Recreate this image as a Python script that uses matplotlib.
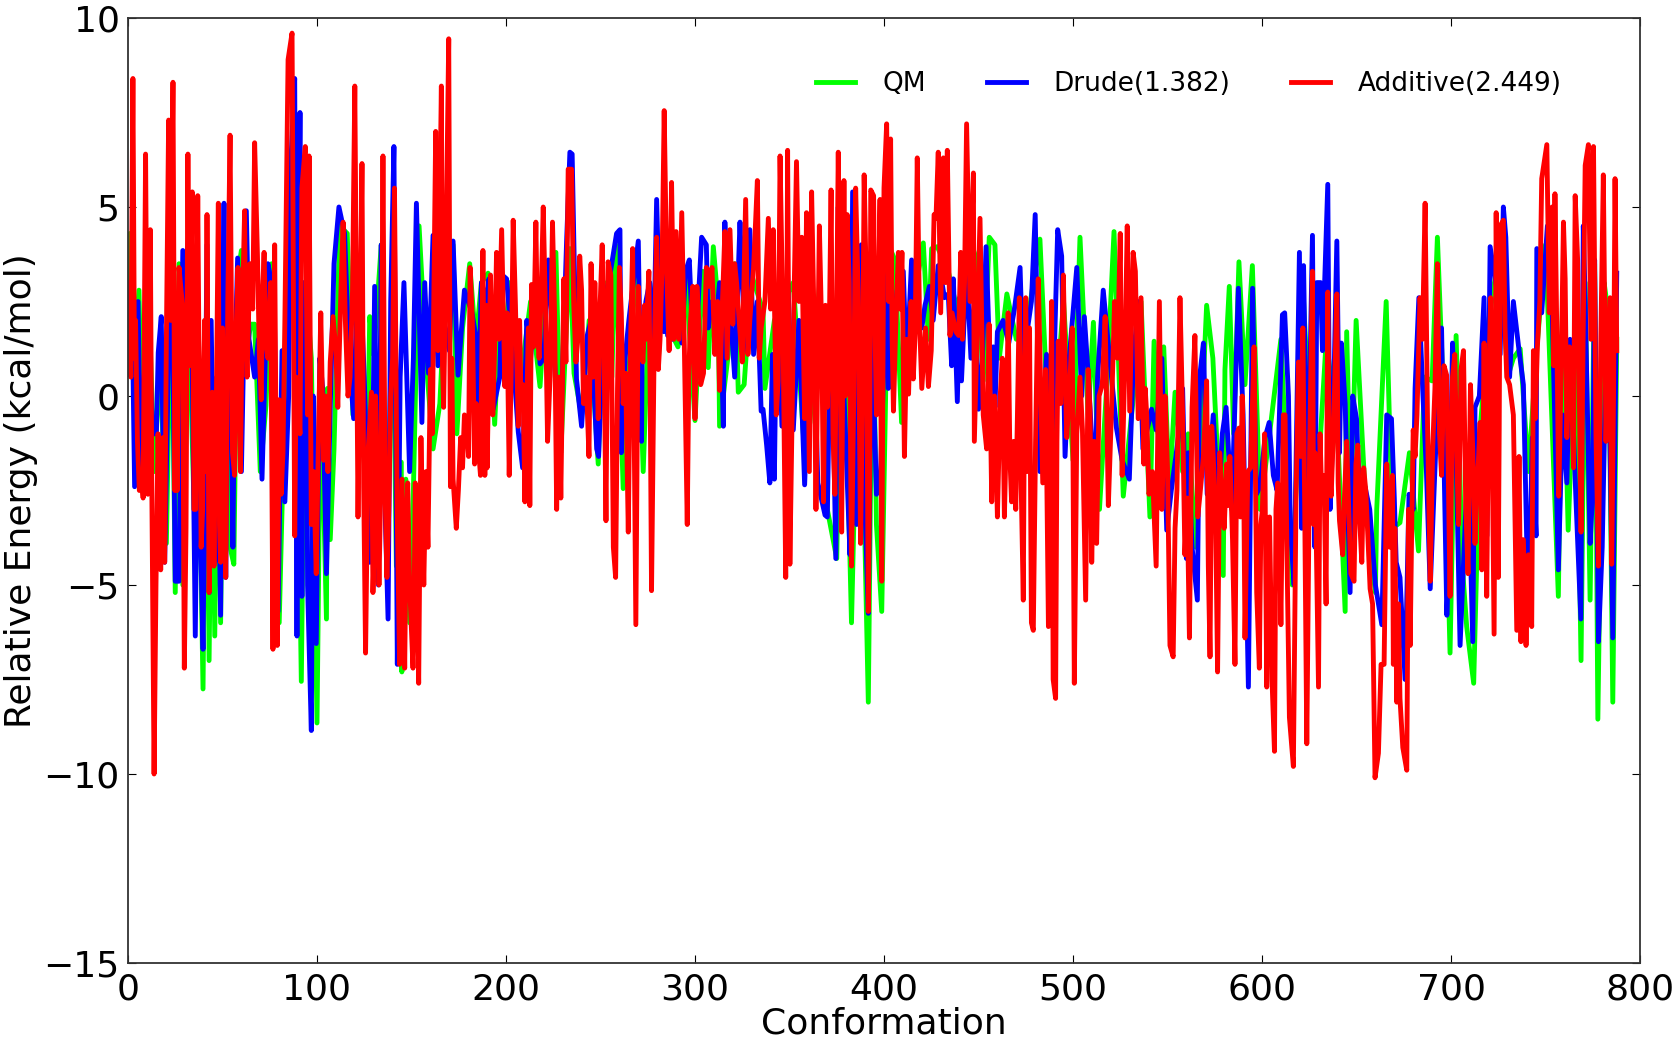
import matplotlib
matplotlib.use("Agg")
import matplotlib.pyplot as plt

# values, turning points of each curve
qm_x = [0, 1, 3, 5.8, 8, 11, 14, 17, 20.3, 23,
        25, 27, 29, 32, 35, 37, 39.7, 41.5, 42.9, 44.5,
        45.9, 47.5, 49, 51, 54, 56, 58, 60, 62, 65,
        67, 70, 73, 76, 80, 84, 87, 89, 91.7, 94,
        97, 100, 102, 105, 105.5, 107, 109, 112, 116, 119,
        123, 126, 127.9, 130, 134, 137, 140, 142, 144.6, 144.9,
        147, 149, 151, 154, 157.8, 161.4, 165, 168, 172, 174,
        177, 180.8, 184, 187, 190.5, 194, 196, 198, 202, 208.2,
        213, 218, 222, 226.4, 229, 233.8, 236, 240, 244, 248.8,
        252, 256, 258, 262, 266, 269, 272.6, 276, 280.6, 284,
        288, 291, 295, 300, 304, 307, 309.7, 312.3, 313, 317.6,
        321, 322.9, 326, 330, 336, 337, 342, 345, 352, 358,
        360.8, 366, 370, 375, 378, 382.8, 387, 391.7, 394, 396,
        398.8, 402.3, 405.8, 409.3, 415, 420.8, 423.5, 425.2, 428.2, 434,
        440, 444.6, 449, 452.5, 455.7, 458.7, 461, 465, 470, 476,
        482.5, 488, 495, 500, 503.7, 508, 510.8, 514, 518, 521.7,
        526.6, 532, 536, 540.7, 542.9, 545, 548, 551, 554, 558,
        561, 565, 570.7, 574, 579.5, 580.4, 582.7, 585, 587.8, 591,
        594.9, 599, 604, 610, 616, 622, 628, 634, 640, 644,
        644.8, 647, 649.8, 655, 660, 660.7, 665.7, 669, 673, 678,
        682.8, 686, 690, 692.8, 696, 699.5, 702.7, 706, 708.3, 712,
        715.4, 720, 726, 730, 733, 736.6, 741, 745, 750, 756.8,
        759, 762, 766, 768.8, 771, 773.6, 776, 777.7, 781, 783.3,
        785.6, 787.7]
qm_y = [2.5, 4.3, 0.8, 2.8, -2.5, 2.5, -2, 1.1, -3.9, 3.5,
        -5.2, 3.5, -5, 2.5, -3, 0.4, -7.75, 2, -7, 0,
        -6.35, 1, -6, 2.6, -4, -4.45, 3.2, 3.85, 1, 1.9,
        1.9, -2, -0.25, 3.5, -6, 2, 6, 2, -7.55, 3,
        1, -8.65, 0.5, -5.9, 0.2, -3.8, -1.4, 4.5, 4.3, -0.5,
        2.5, -4, 2.1, 1.1, 4, -4.5, 3, -4.5, -1.75, -7.3,
        -2.2, -6, -2.5, 4.5, 0.9, -1.4, -0.2, 3, 4, -1,
        1.8, 3.5, 1.4, 3, 3.25, -0.75, 1.5, 0.6, 3, 0.65,
        2.5, 0.25, 3.4, 3.8, -1.5, 3.9, 0.6, -0.5, 2, -1.8,
        3, 0.5, 4, -2.45, 1.6, 3.6, -2, 3, 0.95, 4,
        1.6, 1.3, 3.3, -0.65, 3.3, 0.75, 3.95, 2.4, -0.8, 1.1,
        3.5, 0.1, 0.3, 3.2, 2.25, 0.2, 2, 2.3, 3, -1.5,
        -0.7, 3, -3, -4.3, 4, -6, 3, -8.1, 3, -3.4,
        -5.7, 4, 3.6, -0.7, 2.3, 4.05, 1.5, 3.9, 3.95, 3.3,
        2, 4.3, 3.6, 0.4, 4.2, 4, 1, 2.7, 1.5, 2,
        4.15, -2, 2.5, -1.7, 4.2, -0.5, 1.95, -3, 0.4, 4.35,
        -2.65, 0, 2.5, -3.2, 1.45, -1, 1.3, -2.5, 0.1, -2,
        -1, -4, 2.4, 1, -4.75, 0.7, 2.9, -1, 3.55, 0.3,
        3.45, -3, -1, 1.5, -5, 2.5, -3.5, 1.5, -1, -5.7,
        1.7, -3, 2, -3, -5.2, -3, 2.5, -3.5, -3.35, -1.5,
        -4.1, 0.5, 0.4, 4.2, 0, -6.8, 1.6, -4.5, -6.1, -7.6,
        -0.9, 2, 4, 0.5, 1, 1.25, -2, 1, 4, -5.3,
        2.5, -3.55, 2, -7, 3, -5.4, 3.5, -8.55, 3, 2.15,
        -8.1, 1.5]

drude_x = [0, 2.1, 3.5, 5.3, 7, 10, 13, 15, 16, 17.6,
           19.4, 23, 25, 27, 29, 32, 35.6, 37, 39.7, 41.8,
           43, 45.9, 47, 49, 50.8, 51.7, 55.5, 56.4, 58, 60,
           62.6, 64, 67, 69, 70.9, 72, 76, 79.4, 81.5, 83,
           86, 88.2, 89.4, 91, 92, 94.5, 97, 99.6, 101.5, 105,
           107, 111.6, 114.6, 119.4, 123, 127.9, 130.5, 132.5, 134, 137.6,
           140.7, 142.5, 149, 152.6, 155.5, 161.4, 167, 172, 174.6, 178,
           184.3, 185, 189.7, 193.2, 196.7, 200.3, 206.5, 208.8, 213, 218,
           222.4, 228.5, 232, 233.8, 235, 237.3, 240, 245, 248, 249,
           258.5, 260.3, 261, 265, 270, 271.7, 272, 279.7, 281.5, 286,
           291, 293, 297, 303.5, 306, 307, 315, 315.8, 321, 323.8,
           329, 331, 336, 337.9, 339.6, 342, 344, 358, 362, 368.8,
           372, 374.5, 375.8, 383.4, 385.5, 388, 391.7, 396, 401.4, 402.3,
           410.2, 414.6, 420, 421.7, 428.7, 432, 435.8, 436.7, 438.8, 441,
           443.7, 450, 454, 457.8, 458.7, 463, 472, 476, 480, 482.5,
           491.9, 494, 495.8, 502, 504.6, 508, 511.6, 516, 523, 529.8,
           534.6, 541.6, 549.6, 556, 560, 561, 565.8, 569, 574.2, 581,
           587.5, 592.8, 595, 599, 601.6, 603.8, 606, 610.8, 612, 614,
           617, 619.8, 621, 622, 626.7, 629, 632, 634.8, 637.5, 639.6,
           642, 644, 646.6, 650, 654.5, 657, 663.4, 666, 668.5, 671,
           675.7, 677.8, 681, 683, 689, 695, 697.8, 700.8, 704.8, 711.5,
           712.7, 717.5, 720.7, 727.7, 731, 733, 738.3, 741, 745, 745.4,
           751, 756.8, 761.3, 766, 768.7, 771, 773.6, 778, 783.3, 785.6,
           787.7]
drude_y = [1, 2.6, -2.4, 2.5, -2.4, 3, -1, -1, 1.15, 2.1,
           -4.4, 5.25, -4.9, -4.9, 3.85, 1, -6.35, 0.5, -6.7, 4,
           -5.2, -4.4, 0.5, -5.8, 5.1, -4.8, -4, 0.5, 3.65, -2,
           4.9, 1.5, 0.5, 1.5, -2.2, -0.2, 3, -5.7, 1.2, -2.8,
           6, 8.4, -6.35, 7.5, -5.3, 2.9, -8.85, -6.55, 1, -4.7,
           -0.3, 5, 4.3, -0.6, 3, -4.4, 2.9, -5, 4, -5.9,
           6.6, -7.1, -2, 5.1, -0.7, 4.25, 2, 4.1, 0.55, 2.8,
           1.5, -0.9, 2.5, -0.35, 0.5, 3.1, -0.95, -1.9, 1, 0.85,
           3.6, -1.6, 4, 6.45, 6.4, 0.45, -0.8, 2, -1.4, -1.6,
           4.3, 4.4, -1.5, 2, 4.1, -1.2, 0.9, 5.2, 1.8, 1.6,
           3.4, 1.4, 3.6, 4.2, 4, 1.8, -0.8, 4.6, 0.5, 4.6,
           4.4, 1.1, -0.35, -1.3, -2.3, -2.2, 2.4, -2.35, 3, -3.15,
           3, -4.3, 5, 5.4, -3.4, 4, -5.75, -2.6, 5, 0.2,
           3.3, 3.6, 1.8, 2.4, 3.45, 2.6, 0.8, 3.1, -0.15, 0.4,
           3.5, -0.35, 3.95, 1.3, -0.3, 2, 3.4, 1.8, 4.8, -2,
           4.4, 3.7, -1.6, 3.4, 0, 0.6, -2.65, 2.8, -0.85, -2.2,
           2.5, -0.35, -3.55, -1, -4.3, -1.5, -5.4, 1.4, -0.5, -0.3,
           2.85, -7.7, 2.85, -2.4, -1.1, -0.7, -2.1, 2.15, 2.2, 0,
           -5, 3.8, -3.5, 3.45, 4.25, 3, 1.2, 5.6, -1, 4.1,
           1.4, -0.2, -5.2, -0.6, -2.4, -3, -6.05, -0.5, -0.6, -4.4,
           -7.5, -2.6, 0.2, 2.6, -5.1, 1.8, -5.8, 1.4, -6.6, -6.5,
           -0.3, 2.6, 3.95, 5, 0.5, 2.5, 0.3, -6, -3.7, 3.9,
           4.5, -4.6, -2.3, -2.6, -5.9, 2.5, -3.9, -6.5, 1.8, -6.4,
           3.25]

# second reading: the thick bands between the turning points
drude_more_x = [33.5, 38.5, 44, 52.8, 53.6, 74, 77.5, 85, 90, 93,
                95, 98, 103, 109, 117, 121, 125, 129, 135.5, 139,
                144, 146, 151, 157, 159, 164, 170, 182, 187, 191,
                198, 203, 211, 216, 220, 225, 243, 252, 255, 263,
                274, 276, 278, 282.5, 283.5, 284.5, 285.5, 287, 288, 289,
                290, 295, 299, 301, 309, 311, 313, 317, 319, 325,
                327, 333, 335, 341, 343, 346, 349, 352, 355, 360,
                365, 370, 377, 380, 382, 386.5, 390, 393.5, 398, 400,
                404, 407, 412, 417, 424, 426, 430, 434, 440, 446,
                448, 452, 456, 460, 466, 469, 474, 478, 486, 489,
                498, 506, 513, 519, 526, 532, 537, 544, 547, 552,
                558, 563, 567, 571, 577, 579, 584, 590, 597, 608,
                615, 624, 628, 631, 636, 641, 648, 652, 660, 670,
                673, 680, 685, 687, 692, 699, 702.5, 707, 709, 715,
                719, 724, 726, 729, 736, 743, 748, 753, 759, 763,
                770, 775, 776, 780, 782]
drude_more_y = [3, -4, 2, 2, 3.6, 3.5, 2, 0, 2, 3,
                -5, 0, 0.2, 3.5, 1, 2.5, 0.5, -3.5, -2, 2.5,
                0.5, 3, 1, 3, 0.6, 0.8, 1.2, 2.2, 3, 3.1,
                3.2, 1.5, 2, 3, 1, 1.5, 1.6, 2.5, 3.2, 1,
                2.5, 3, 1, 3.5, 1.7, 3.2, 1.6, 3, 1.5, 3.4,
                1.7, 3.3, 1.2, 1.8, 2.5, 1.9, 3, 2.7, 2, 3,
                1.2, 2.5, -0.4, 1.1, 1.8, -0.8, 3.2, -0.9, 2, 0.5,
                -2.3, -3.2, 2.4, -1.5, -4.2, 1, -3.1, 2, -2.4, 1.1,
                1.2, 2.8, 0.7, 2, 2.9, 2, 3.2, 2.7, 2.6, 1,
                2.8, 0.9, 0.9, 1.7, 1.4, 2.3, 0, 2.5, 1.1, -0.9,
                1, 2.1, 0.5, 1.2, -1.7, 1, -1.4, -0.9, 1, -2.5,
                0.2, -4, 0.5, -2.6, -2.9, -1, -3, -0.5, -2.6, -2.5,
                -3.5, -3.1, -4, 3, -3, -1.5, 0, -3, -5, -2.7,
                -4.8, -3, 0.2, -2, -1.3, -4.2, -1, -4, -1.5, 0,
                -3.7, 2.9, 1.1, 4.2, 1.2, -1.1, 2.2, 3.4, -0.5, 1.5,
                4.5, -2.5, 3.6, -4, 1]

additive_x = [0, 1.5, 2.6, 4, 5, 6, 7, 8, 9.3, 10.5,
              11.8, 13.8, 15.9, 17.3, 18.5, 19.4, 21.5, 22.5, 23.8, 26,
              27, 29.8, 31.7, 33, 34, 34.9, 36.9, 38, 39.5, 41.8,
              42.9, 44.6, 45.5, 46.8, 47.8, 49, 50, 51.7, 54, 55.3,
              56.4, 58.2, 59.5, 61.7, 63, 64.5, 67, 68.5, 70.5, 72,
              74, 75.5, 76.7, 77.6, 79, 80, 82, 84.7, 86.8, 88.2,
              90, 92, 93.8, 95, 95.8, 97, 99.6, 102, 103.5, 105.8,
              108.5, 111, 113.8, 116.4, 117.5, 120, 121.7, 123.8, 125.7, 128.8,
              129.6, 131, 132.8, 134.9, 137, 139, 141, 143.7, 145, 146.4,
              148, 149, 150.8, 152, 153.8, 155, 156.5, 158.7, 160, 162.8,
              164, 165.8, 167, 168, 169.7, 170.6, 172, 173.7, 176, 178,
              179.5, 181, 183.4, 185, 186.5, 187.8, 188.8, 190, 191.8, 193,
              195, 197.7, 199.4, 201.7, 203.8, 205, 206.5, 208, 210, 211.8,
              212.6, 213.5, 215.8, 217.5, 219.7, 222, 224.6, 226.8, 229, 230.6,
              232.9, 234.7, 237, 239, 241, 243.9, 245, 247, 248.8, 250.9,
              252.9, 254, 255.5, 256.8, 258, 260, 262, 264.7, 267, 268.7,
              270, 272.5, 274, 275.6, 277, 279.7, 281.5, 283.7, 285, 287.6,
              290, 293, 295.9, 297.5, 300, 301, 303, 306, 309, 313,
              315.8, 318.5, 321, 323.5, 326.8, 329, 333, 335, 338.8, 341.4,
              343, 345, 348, 349, 350.2, 353.7, 356.5, 358, 359, 361.7,
              364, 365.8, 368, 370, 372, 374, 375.8, 377.6, 378.8, 380.5,
              382.8, 385, 387.6, 389.5, 391.7, 393, 394.5, 396, 397.9, 398.8,
              400, 401.4, 403.5, 405, 407.6, 409.5, 410.8, 413, 415.5, 417.6,
              420, 423.5, 426.5, 427.5, 428.7, 431.4, 433.5, 434.9, 439.5, 440.6,
              441.5, 443.7, 447.3, 447.8, 450.8, 454.3, 457, 458.5, 460, 461.5,
              463.7, 465.7, 467.5, 469.7, 471.6, 473.7, 475, 477, 478, 479,
              481.6, 484, 487, 488.7, 489.5, 490.8, 492.2, 494.9, 496.7, 499.6,
              500.7, 503.7, 506.7, 509, 509.9, 512.5, 517, 518.7, 522, 525,
              526, 528.7, 531.8, 533, 536, 537.5, 539, 540.2, 544, 545.7,
              548.7, 551.3, 553, 555, 556.6, 559.2, 561.6, 564.5, 567.2, 570.7,
              572.5, 574.2, 576.5, 578.6, 581.3, 583, 585.7, 587.8, 589.5, 591,
              592.5, 595.8, 597.2, 598.6, 600.2, 602.5, 604, 605.3, 606.6, 608.3,
              610, 611.3, 612.2, 614.5, 616.6, 619.3, 621.6, 623.7, 626.7, 628,
              629.9, 631.6, 633.9, 634.8, 636.6, 639.6, 641, 642.7, 644.8, 647,
              648.7, 650.7, 652.8, 654.9, 657.2, 659.8, 661.6, 663, 664.6, 666,
              669, 669.5, 671.3, 673, 674.5, 676.6, 678.4, 680, 682, 683.6,
              686.3, 689, 690.3, 692.8, 695, 697.7, 699.5, 702, 704, 706.6,
              709, 711.5, 712.7, 714.5, 716.3, 717.5, 718.9, 721, 722.8, 723.9,
              725, 726, 727.7, 729.5, 733, 734.8, 737, 739.7, 742.7, 743.6,
              745.7, 748, 750.7, 753.5, 755, 757, 759.5, 761.3, 762.7, 764.8,
              765.7, 768.8, 771, 772.7, 775.4, 778, 780.6, 783.3, 785, 786.8,
              787.7]
additive_y = [3, 0.5, 8.4, 2, -1.2, -2.5, -2, -2.7, 6.4, -2.6,
              4.4, -10, -1, -4.6, -1.1, -4.4, 7.3, 2, 8.3, -2.5,
              3.4, -7.2, 6.4, 2, 5.4, -3, 5.3, 0.3, -3, 4.8,
              -5.2, 0.1, -4.5, 0.1, 5.1, -4.4, 1.8, -4.8, 6.9, -1.5,
              -2.1, 3.4, -2, 4.9, 0.5, 3.5, 6.7, 3.7, -0.1, 3.8,
              1, 3, -6.7, 4, -6.6, -0.1, -1.5, 8.9, 9.6, -3.7,
              -0.3, 5.5, 6.6, -0.5, 6.35, -3.4, -4.7, 2.2, -1.7, -2,
              2.1, -0.3, 4.6, 0, 0.5, 8.2, -3.2, 6.15, -6.8, 0.1,
              -5.2, 0, -5, 6.35, -4.8, 0, 5.5, -7.1, -2.2, -7.2,
              -2.3, -5, -7.2, -2.3, -7.6, -1.1, -5, -4, 0.7, 7,
              1.2, 8.2, -0.3, 3, 9.45, -2.4, -2.2, -3.5, -1.1, -0.5,
              -1, 3.4, -1.8, -1.1, -2.1, 3.85, -2.1, -1.9, 3.2, -0.5,
              3.8, 4.4, 0.25, -2.1, 4.65, 2.4, -0.8, -0.3, -2.8, 1.8,
              -2.9, 2.95, 4.6, 1, 5, -1.2, 4.6, -3, -2.7, 3.1,
              6, 6, 0.9, 3.7, -0.2, -1.6, 3.5, 3, -0.6, 4,
              -3.3, 3.55, 3.2, -4, -4.8, 3.4, -0.2, -3.6, 3.9, -6.05,
              2.9, 0.9, 1.5, 3.3, -5.15, 4.2, 1.5, 7.55, 3.3, 5.65,
              4.35, 4.85, -3.4, 1.9, -0.6, 2.9, 0.3, 3.4, 3.4, 0.15,
              4.35, 4.4, 3.5, 1.9, 5.2, 2, 5.7, 1.8, 4.7, 4.4,
              -0.5, 6.35, -4.8, 6.5, -4.45, 6.2, 4.2, -0.6, 4.85, 5.4,
              -3, 4.5, -2.8, -0.3, 5.45, -2.6, 6.45, -3.6, 5.7, 4.8,
              -4.5, 5.5, -3.9, 5.85, -5.7, 5.45, 5.3, -0.5, 5.2, -4.9,
              5.5, 7.2, 6.8, -0.4, 3.8, 3.8, -1.6, 0.05, 0.45, 6.3,
              0.2, 0.25, 4.8, 4.7, 6.45, 6.3, 6.5, 1.6, 1.6, 3.8,
              1.5, 7.2, 5.9, -1.2, 4.7, -1.4, -2.8, 0, -3.2, 0,
              -3.2, 2.2, -2.8, -3, 2.6, -5.4, 2.6, 1.8, -6, -6.2,
              3.1, -2.3, -6.1, 2.5, -7.5, -8, 1.45, 3.2, -1.1, 1.8,
              -7.6, 0.5, -5.4, -0.4, -4.4, -3.9, 2.1, -2.9, 2.5, 4.3,
              -2.1, 4.5, 3.8, 3.3, 2.6, -1.8, -0.5, -2.6, -4.5, 2.5,
              0, -6.6, -6.9, -2.5, 2.6, -4.2, -6.4, 1.6, -2.6, 0.4,
              -6.9, -1.6, -7.3, -2.4, -1.8, -1.6, -7.1, -0.85, 0, -6.4,
              -2, 1.3, -5.2, -7.2, -3, -7.7, -3.2, -7.5, -9.4, -2.3,
              -6.05, -0.5, -0.5, -8.5, -9.8, 0.9, 1.8, -9.2, 3.3, -1.5,
              -7.7, -2.65, -5.5, 2.75, -2.65, 2.7, -3.3, -4.2, -1.2, -4.7,
              -4.9, -1.3, -4.4, -2.5, -5.1, -10.1, -9.45, -7.1, -7.1, -1.8,
              -2.1, -7.1, -8.1, -8, -9.3, -9.9, -6.6, -0.9, -0.5, 2.6,
              5.1, -4.9, -1.4, 3.5, -2.1, 0.55, -5.3, 1.1, -3.4, 1.2,
              -4.7, -1.4, -3.9, -1.75, -4.6, 1.4, -5.3, 2.6, -6.3, 4.85,
              -4.8, 4.5, 4.65, 0.5, -0.5, -6.2, -6.5, -6.6, -6.1, 1.2,
              1.3, 5.75, 6.65, 5, 5.35, -2.65, 4.6, -1.1, 1.3, -1.9,
              5.3, -3.6, 6.1, 6.65, 6.6, -4.5, 5.85, 1.3, -4.45, 5.75,
              1.2]

additive_more_x = [3.4, 12.6, 14.8, 16.6, 20.3, 24.8, 25.5, 28.8, 30.7, 32.4,
                   35.8, 37.5, 38.7, 40.5, 41.2, 43.7, 46.2, 48.4, 50.8, 52.8,
                   57.3, 60.4, 62.2, 66, 69.5, 71.2, 73, 78.3, 81, 83,
                   89, 91, 94.4, 96.4, 98.2, 100.8, 104.5, 107, 110, 112.5,
                   115, 118.8, 122.7, 124.7, 127, 130.3, 133.8, 136, 138, 140,
                   142.4, 147.2, 151.4, 154.4, 157.6, 161, 163.4, 166.4, 171.3, 174.8,
                   177, 180.2, 182.2, 184.2, 189.4, 194, 196.3, 200.5, 202.7, 207.2,
                   209, 214.6, 216.6, 218.6, 221, 223.3, 225.7, 228, 231.7, 235.8,
                   238, 240, 242.4, 246, 249.8, 251.9, 259, 261, 263.3, 265.8,
                   271.2, 273.3, 276.3, 278.3, 280.6, 282.6, 286.3, 288.8, 291.5, 294.4,
                   296.7, 298.8, 302, 304.5, 307.5, 310.5, 312, 314.4, 317, 320,
                   322, 325, 328, 331, 334, 337, 340, 344, 346.5, 351.8,
                   355, 357.3, 360.5, 362.8, 367, 369, 371, 373, 376.7, 379.5,
                   381.6, 384, 386.3, 388.6, 390.6, 392.4, 395.2, 402.5, 404.3, 406.3,
                   408.5, 412, 414.3, 416.5, 418.8, 422, 425, 430, 432.5, 436,
                   438, 442.6, 445.5, 449.3, 452.5, 455.6, 459.3, 462.6, 464.7, 466.6,
                   468.6, 470.6, 472.6, 474.4, 476, 480.2, 482.8, 485.5, 491.5, 493.5,
                   495.8, 498, 502, 505, 508, 511.2, 513.8, 515.5, 520.3, 523.5,
                   527.3, 530, 534.5, 538.2, 542, 547, 550, 554, 558, 560.4,
                   563, 566, 569, 571.6, 573.4, 575.4, 577.6, 580, 582, 584.4,
                   586.7, 588.6, 590.3, 594, 599.4, 601.4, 603.2, 607.4, 609.2, 613.4,
                   618, 620.4, 622.6, 625.2, 627.3, 630.7, 632.8, 635.7, 638, 640.3,
                   643.7, 645.9, 649.7, 651.7, 653.8, 656, 658.5, 667.5, 670.3, 672.2,
                   677.5, 679.2, 681, 684.9, 687.6, 691.5, 693.9, 696.3, 698.6, 700.8,
                   703, 705.3, 707.8, 710.3, 713.6, 715.4, 720, 724.5, 725.5, 728.6,
                   731, 736, 738.3, 741, 744.6, 747, 752, 754.3, 756, 758.3,
                   760.4, 763.8, 767, 769.9, 774, 776.7, 779.3, 782, 784.2, 786]
additive_more_y = [1, -2.4, -5, -3, 1.5, -2.5, 2, 2.4, -3.5, 0.8,
                   -3, 1.5, -4, 2, -2, -3.3, -1.5, -3.4, -0.5, 2.5,
                   1.9, 2, 1.8, 2.3, 1.1, 2.7, 1.4, -1, -2.6, 2,
                   0.5, -1, 2.8, 1.5, -2, -1, 0, 0.9, 1.2, 2.5,
                   2, 2.8, 1.5, -2.4, -1.5, -4, -2.2, -2.5, -3, 1,
                   -3, -3.5, -5.3, -4, -2, -1, 3.4, 0.8, 1, -2.5,
                   -1.9, -1.6, 2, -0.2, 2.4, 1.3, 1.5, 2.2, 0.5, 2,
                   0.3, 1.3, 1.9, 2.7, 2, 0.5, 2.2, 0.5, 0.9, 2.5,
                   1.5, 2.8, 0.5, 0.5, 2.4, 1.1, 0.2, 2.2, 0.6, 1.2,
                   1.2, 2.4, 0, 0.9, 0.7, 3.5, 1.2, 1.5, 1.5, 1.2,
                   0.5, 2.9, 2, 0.6, 2.9, 1.1, 2.5, 2.3, 1, 1.9,
                   3, 0.9, 1.1, 3.4, 1, 2.5, 2.3, 0.4, 2, 0.9,
                   2.5, 1.5, -2, 2.5, 1.8, 2.4, 1.5, -1, 2, 0,
                   3, 0, 2.8, 0, 3, -2, 1.8, 2.5, 1.5, 2,
                   2.3, 1.5, 2.5, 1.7, 2, 1.8, 1.2, 2.2, 3, 2.2,
                   1.7, 3, 2.5, 1.8, -0.5, 1.9, -1.5, 1, -1, -1.6,
                   -1.2, -0.5, -2.4, 0.8, -2, -1.2, 0.5, 0.7, -1.2, -0.2,
                   0.8, 0, -1, -0.9, 0.7, -1.2, 0, 0.3, -0.5, 1,
                   0.6, -0.4, -0.6, 0.2, -2, -3, -1.9, -3.5, -0.5, -2.7,
                   -0.3, -3.2, -1.6, -4.5, -0.8, -3, -1.5, -3.5, -2.9, -3.8,
                   -1, -3.2, -2.1, -1.9, -3.4, -1, -4.3, -3, -3.5, -4.8,
                   -2.7, -1.6, -3, -1.4, -3.4, -1, -2.1, -2, -0.6, -2.3,
                   -2.6, -3, -1.8, -3.3, -1.9, -3.7, -5.5, -4, -3.5, -5.5,
                   -3, -3.5, -1.6, 1.5, -0.8, 0.2, -1, 0.8, -2.2, 0.5,
                   -1.6, 0.7, -2.9, 0.3, -2.4, -0.7, 0.5, 1.5, -0.9, 1.8,
                   0.3, -1.6, -3.8, -4.2, -0.6, 2.5, 2.2, 0.8, 1.6, 0.7,
                   3.1, 0.2, 3.6, 1.5, 1.5, -1, 1.6, -1.2, 2.6, 0]

labels = ["QM", "Drude(1.382)", "Additive(2.449)"]
colors = ["#00ff00", "#0000ff", "#ff0000"]
x_ticks = [0, 100, 200, 300, 400, 500, 600, 700, 800]
y_ticks = [-15, -10, -5, 0, 5, 10]

drude = sorted(zip(drude_x + drude_more_x, drude_y + drude_more_y))
additive = sorted(zip(additive_x + additive_more_x, additive_y + additive_more_y))

fig = plt.figure(figsize=(16.73, 10.43), dpi=100)
ax = fig.add_axes([128 / 1673, 1 - 963 / 1043, 1512 / 1673, 945 / 1043])

ax.plot(qm_x, qm_y, color=colors[0], lw=3.5, label=labels[0])
ax.plot([p[0] for p in drude], [p[1] for p in drude], color=colors[1], lw=3.5, label=labels[1])
ax.plot([p[0] for p in additive], [p[1] for p in additive], color=colors[2], lw=3.5, label=labels[2])

ax.set_xlim(0, 800)
ax.set_ylim(-15, 10)
ax.set_xticks(x_ticks)
ax.set_yticks(y_ticks)
ax.tick_params(direction="in", top=True, right=True, length=6, width=0.8, labelsize=26, pad=6)
ax.tick_params(axis="x", pad=7)
ax.set_xlabel("Conformation", fontsize=26, labelpad=0)
ax.set_ylabel("Relative Energy (kcal/mol)", fontsize=26, labelpad=4)
for s in ax.spines.values():
    s.set_linewidth(1.3)
    s.set_color("#333333")

ax.legend(loc="upper right", bbox_to_anchor=(0.964, 0.969), ncol=3, frameon=False, fontsize=19,
          columnspacing=2.3, handlelength=1.47, handletextpad=1.05)

fig.savefig("out.png", dpi=100)
